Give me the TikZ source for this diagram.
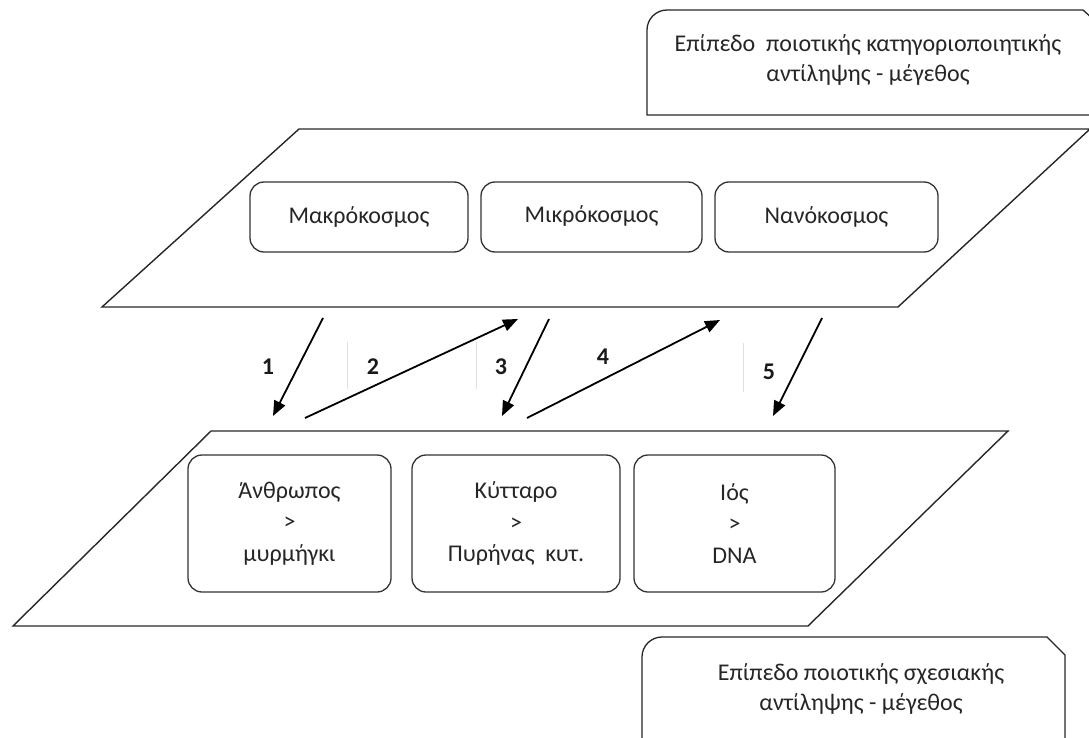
\documentclass[tikz,border=0pt]{standalone}
\usepackage{fontspec}
\setmainfont{Carlito}
\usetikzlibrary{arrows.meta}
\begin{document}
\begin{tikzpicture}[x=1pt,y=-1pt,
  plane/.style={draw=black!85, line width=1.4pt},
  item/.style={draw=black!80, line width=1.3pt, rounded corners=14pt,
    align=center, inner sep=0pt, font=\fontsize{24}{31.5}\selectfont, text=black!85},
  levelbox/.style={draw=black!85, line width=1.3pt},
  leveltext/.style={align=center, font=\fontsize{24}{30.5}\selectfont, text=black!85},
  num/.style={font=\bfseries\fontsize{24}{26}\selectfont, text=black!90},
  flow/.style={draw=black, line width=1.8pt, -{Triangle[length=15pt,width=12pt]}},
  guide/.style={draw=black!12, line width=0.6pt}]
\useasboundingbox (0,0) rectangle (1089,738);
\clip (0,0) rectangle (1089,738);

% level labels with one rounded and one snipped corner
\draw[levelbox] (647,115) -- (647,30) arc[start angle=180,end angle=270,radius=20] -- (1083,10) -- (1103,28) -- (1103,115) -- cycle;
\node[leveltext] (toplevel) at (868,60) {Επίπεδο\ \ ποιοτικής κατηγοριοποιητικής\\αντίληψης - μέγεθος};

\draw[levelbox] (642,745) -- (642,657) arc[start angle=180,end angle=270,radius=20] -- (1047,637) -- (1065,655) -- (1065,745);
\node[leveltext] (botlevel) at (861,689) {Επίπεδο ποιοτικής σχεσιακής\\αντίληψης - μέγεθος};

% upper plane
\coordinate (ua) at (102,307);
\coordinate (ub) at (299,129);
\coordinate (uc) at (1090,129);
\coordinate (ud) at (898,307);
\draw[plane] (ua) -- (ub) -- (uc) -- (ud) -- cycle;

\node[item, minimum width=218pt, minimum height=70pt] (macro) at (359,217) {Μακρόκοσμος};
\node[item, minimum width=221pt, minimum height=70pt] (micro) at (591.5,217) {\raisebox{6pt}{Μικρόκοσμος}};
\node[item, minimum width=223pt, minimum height=70pt] (nano) at (826.5,217) {Νανόκοσμος};

% lower plane
\coordinate (la) at (13,626);
\coordinate (lb) at (211,431);
\coordinate (lc) at (1008,431);
\coordinate (ld) at (808,626);
\draw[plane] (la) -- (lb) -- (lc) -- (ld) -- cycle;

\node[item, minimum width=203pt, minimum height=137pt] (human) at (289.5,523.5) {Άνθρωπος\\>\\μυρμήγκι};
\node[item, minimum width=208pt, minimum height=137pt] (cell) at (516,523.5) {Κύτταρο\\>\\Πυρήνας\ \ κυτ.};
\node[item, minimum width=201pt, minimum height=137pt] (virus) at (734.5,523.5) {Ιός\\>\\DNA};

% faint guides between the planes
\coordinate (g1a) at (347,342); \coordinate (g1b) at (347,389);
\coordinate (g2a) at (476,342); \coordinate (g2b) at (476,389);
\coordinate (g3a) at (743,343); \coordinate (g3b) at (743,392);
\draw[guide] (g1a) -- (g1b);
\draw[guide] (g2a) -- (g2b);
\draw[guide] (g3a) -- (g3b);

% steps between the two planes
\coordinate (s1) at (323,318); \coordinate (e1) at (273,416);
\coordinate (s2) at (305,418); \coordinate (e2) at (518,319);
\coordinate (s3) at (549,319); \coordinate (e3) at (502,416);
\coordinate (s4) at (527,418); \coordinate (e4) at (720,320);
\coordinate (s5) at (822,318); \coordinate (e5) at (773,416);
\draw[flow] (s1) -- (e1);
\draw[flow] (s2) -- (e2);
\draw[flow] (s3) -- (e3);
\draw[flow] (s4) -- (e4);
\draw[flow] (s5) -- (e5);

\node[num] (n1) at (268,367) {1};
\node[num] (n2) at (373,367) {2};
\node[num] (n3) at (501,367) {3};
\node[num] (n4) at (603,357) {4};
\node[num] (n5) at (769,372) {5};
\end{tikzpicture}
\end{document}
